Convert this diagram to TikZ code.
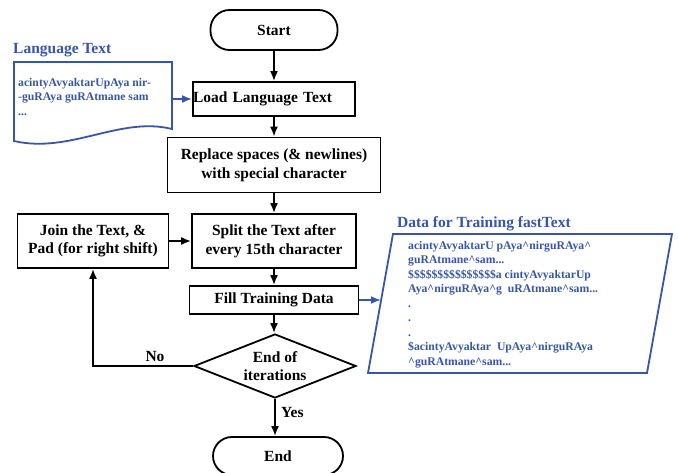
\documentclass[tikz,border=0pt]{standalone}
\usepackage{fontspec}
\setmainfont{Liberation Serif}
\usetikzlibrary{arrows.meta,shapes.geometric}
\definecolor{docblue}{RGB}{55,85,170}
\begin{document}
\begin{tikzpicture}[x=1pt,y=-1pt,
  every node/.style={font=\bfseries\fontsize{15.5}{18.6}\selectfont},
  box/.style={draw, line width=1.8pt, align=center, inner sep=0pt},
  term/.style={draw, line width=1.8pt, rounded corners=19pt, inner sep=0pt},
  arr/.style={line width=1.8pt, -{Latex[length=10pt,width=8pt]}},
  barr/.style={line width=1.8pt, docblue, -{Latex[length=10pt,width=8pt]}},
  small/.style={font=\bfseries\fontsize{11.7}{14.5}\selectfont, text=docblue, align=left, inner sep=0pt},
  title/.style={text=docblue, inner sep=0pt},
  doc/.style={draw=docblue, line width=1.8pt}]
\useasboundingbox (0,0) rectangle (678,473);

% flow nodes
\node[term, minimum width=127pt, minimum height=40pt] (start) at (274,30) {Start};
\node[box, minimum width=162pt, minimum height=34pt, text width=162pt, align=left] (load) at (274,99) {Load Language Text};
\node[box, minimum width=213pt, minimum height=55pt] (repl) at (274,165) {Replace spaces (\& newlines)\\with special character};
\node[box, minimum width=164pt, minimum height=54pt] (split) at (274,241) {Split the Text after\\every 15th character};
\node[box, minimum width=151pt, minimum height=54pt] (join) at (93,241) {Join the Text, \&\\Pad (for right shift)};
\node[box, minimum width=169pt, minimum height=28pt] (fill) at (274,300) {Fill Training Data};
\node[draw, diamond, line width=1.8pt, aspect=2.5, inner sep=0pt, minimum width=162pt, minimum height=64pt, align=center] (dia) at (275,366) {End of\\iterations};
\node[term, minimum width=130pt, minimum height=38pt] (end) at (278,456) {End};

% connectors
\draw[arr] (start) -- (load);
\draw[arr] (load) -- (repl);
\draw[arr] (repl) -- (split);
\draw[arr] (split) -- (fill);
\draw[arr] (fill.south) -- (fill.south |- dia.north);
\draw[arr] (dia.south) -- (dia.south |- end.north);
\node[anchor=west, inner sep=0pt] (yes) at (281,413) {Yes};
\draw[arr] (dia.west) -| (join.south);
\node[inner sep=0pt] (no) at (155,357) {No};
\draw[arr] (join) -- (split);

% language text document
\node[title, anchor=west] (langtitle) at (13,50) {Language Text};
\draw[doc] (14,62) -- (172,62) -- (172,129) .. controls (120,116) and (70,154) .. (14,141) -- cycle;
\node[small, anchor=north west] (langtext) at (18,78) {acintyAvyaktarUpAya nir-\\-guRAya guRAtmane sam\\...};
\coordinate (docE) at (172,99);
\draw[barr] (docE) -- (load.west);

% training data parallelogram
\node[title, anchor=west] (datatitle) at (397,224) {Data for Training fastText};
\draw[doc] (393,234) -- (672,234) -- (647,373) -- (368,373) -- cycle;
\node[small, anchor=north west] (datatext) at (408,241) {acintyAvyaktarU pAya\textasciicircum nirguRAya\textasciicircum\\
guRAtmane\textasciicircum sam...\\
\$\$\$\$\$\$\$\$\$\$\$\$\$\$\$a cintyAvyaktarUp\\
Aya\textasciicircum nirguRAya\textasciicircum g\ \ uRAtmane\textasciicircum sam...\\
.\\
.\\
.\\
\$acintyAvyaktar\ \ UpAya\textasciicircum nirguRAya\\
\textasciicircum guRAtmane\textasciicircum sam...};
\coordinate (dataL) at (381,300);
\draw[barr] (fill) -- (dataL);
\end{tikzpicture}
\end{document}
